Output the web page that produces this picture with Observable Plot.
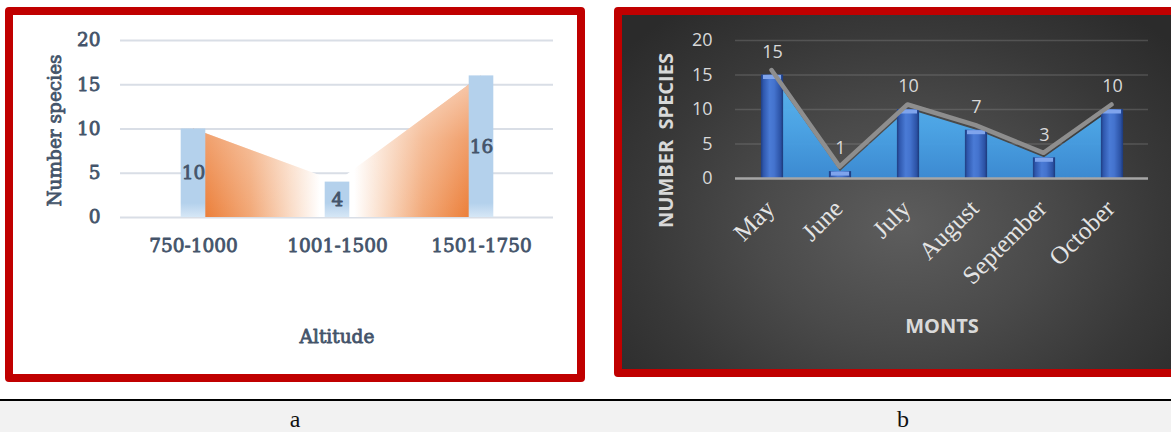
<!DOCTYPE html>
<html>
<head>
<meta charset="utf-8">
<script src="https://cdn.jsdelivr.net/npm/d3@7"></script>
<script src="https://cdn.jsdelivr.net/npm/@observablehq/plot@0.6"></script>
<style>
  html, body { margin: 0; padding: 0; background: #fff; }
  #page { position: relative; width: 1171px; height: 432px; overflow: hidden; background: #fff; }
  .panel { position: absolute; box-sizing: border-box; border: 8px solid #C00000; border-radius: 4px; }
  #panelA { left: 5px; top: 7px; width: 580px; height: 375px; background: #fff; }
  #panelB { left: 614px; top: 7px; width: 600px; height: 370px;
    background: radial-gradient(ellipse 62% 78% at 48% 60%, #5d5d5d 0%, #4a4a4a 40%, #383838 72%, #2b2b2b 100%); }
  #chartA { position: absolute; left: 13px; top: 15px; }
  #chartB { position: absolute; left: 622px; top: 15px; }
  #chartB text { white-space: pre; }
  #strip { position: absolute; left: 0; top: 399px; width: 1171px; height: 33px; box-sizing: border-box;
    border-top: 2px solid #000; background: #F2F2F2; }
  .sub { position: absolute; top: 6px; transform: translateX(-50%); font-family: "Liberation Serif", serif;
    font-size: 24px; line-height: 24px; color: #111; }
</style>
</head>
<body>
<div id="page">
  <div class="panel" id="panelA"></div>
  <div class="panel" id="panelB"></div>
  <div id="chartA"></div>
  <div id="chartB"></div>
  <div id="strip"></div>
</div>
<script>
// Species richness by altitude band
const altitudes = ["750-1000", "1001-1500", "1501-1750"];
const speciesByAltitude = [10, 4, 16];
const altitudeTicks = [0, 5, 10, 15, 20];
const altitudeTitle = "Altitude";
const altitudeYTitle = "Number species";

// Species richness by month
const months = ["May", "June", "July", "August", "September", "October"];
const speciesByMonth = [15, 1, 10, 7, 3, 10];
const monthTicks = [0, 5, 10, 15, 20];
const monthTitle = "MONTS";
const monthYTitle = "NUMBER  SPECIES";

// Panel captions
const panelNames = ["a", "b"];
const panelCenters = [295, 903];

const rowsA = altitudes.map((altitude, i) => ({altitude, species: speciesByAltitude[i]}));
const rowsB = months.map((month, i) => ({month, species: speciesByMonth[i]}));

function addStops(grad, stops) {
  for (const [offset, color, opacity = 1] of stops) {
    grad.append("stop").attr("offset", offset).attr("stop-color", color).attr("stop-opacity", opacity);
  }
}

// Gradients for the altitude chart
function defsA(index, scales) {
  const base = scales && scales.y ? scales.y(0) : 202;
  const defs = d3.create("svg:defs");
  addStops(defs.append("linearGradient").attr("id", "gA-area")
    .attr("x1", 0).attr("x2", 1).attr("y1", 0).attr("y2", 0), [
    [0, "#EA7732"], [0.05, "#EC813D"], [0.2, "#F2A877"], [0.34, "#FADCC7"],
    [0.44, "#FFFFFF"], [0.56, "#FFFFFF"], [0.66, "#FADCC7"], [0.8, "#F2A877"],
    [0.95, "#EC813D"], [1, "#EA7732"]
  ]);
  addStops(defs.append("linearGradient").attr("id", "gA-hi")
    .attr("x1", 0).attr("x2", 0).attr("y1", 0).attr("y2", 1), [
    [0, "#FFFFFF", 0.6], [0.45, "#FFFFFF", 0.25], [1, "#FFFFFF", 0]
  ]);
  addStops(defs.append("linearGradient").attr("id", "gA-bar").attr("gradientUnits", "userSpaceOnUse")
    .attr("x1", 0).attr("x2", 0).attr("y1", base - 14).attr("y2", base), [
    [0, "#B4D1EC"], [1, "#D6E7F6"]
  ]);
  return defs.node();
}

// Gradients for the monthly chart
function defsB() {
  const defs = d3.create("svg:defs");
  addStops(defs.append("linearGradient").attr("id", "gB-bar")
    .attr("x1", 0).attr("x2", 1).attr("y1", 0).attr("y2", 0), [
    [0, "#1F3E82"], [0.12, "#2F58AE"], [0.4, "#4A7BD6"], [0.6, "#4473CE"],
    [0.88, "#2C53A6"], [1, "#1C397A"]
  ]);
  addStops(defs.append("linearGradient").attr("id", "gB-area")
    .attr("x1", 0).attr("x2", 0).attr("y1", 0).attr("y2", 1), [
    [0, "#5EBAF5"], [0.5, "#4CA8EC"], [1, "#3B8DD8"]
  ]);
  return defs.node();
}

const serifA = '"DejaVu Serif", serif';
const inkA = "#44546A";
const textA = {fill: inkA, stroke: inkA, strokeWidth: 0.8, fontFamily: serifA, fontSize: 18.5};
const axisTextA = {fill: inkA, textStroke: inkA, textStrokeWidth: 0.8, fontFamily: serifA, fontSize: 18.5};

const chartA = Plot.plot({
  width: 564,
  height: 358,
  marginLeft: 107,
  marginRight: 24,
  marginTop: 25,
  marginBottom: 156,
  style: {background: "transparent", overflow: "visible"},
  x: {domain: altitudes, padding: 0, axis: null},
  y: {domain: [0, 20], axis: null},
  marks: [
    defsA,
    Plot.ruleY(altitudeTicks, {stroke: "#D9DEE6", strokeWidth: 2}),
    Plot.areaY(rowsA, {x: "altitude", y: "species", fill: "url(#gA-area)"}),
    Plot.areaY(rowsA, {x: "altitude", y: "species", fill: "url(#gA-hi)"}),
    Plot.barY(rowsA, {x: "altitude", y: "species", fill: "url(#gA-bar)", insetLeft: 59.7, insetRight: 59.7}),
    Plot.text(rowsA, {x: "altitude", y: d => d.species / 2, text: d => String(d.species), ...textA}),
    Plot.axisY(altitudeTicks, {tickSize: 0, tickPadding: 20, label: null, ...axisTextA}),
    Plot.axisX({tickSize: 0, tickPadding: 21, label: null, ...axisTextA}),
    Plot.text([altitudeTitle], {
      text: d => d, frameAnchor: "bottom", lineAnchor: "middle", dy: 120, ...textA
    }),
    Plot.text([altitudeYTitle], {
      text: d => d, frameAnchor: "left", textAnchor: "middle", lineAnchor: "middle",
      rotate: -90, dx: -65, dy: 1.5, ...textA
    })
  ]
});
document.getElementById("chartA").append(chartA);

const sansB = '"Open Sans", "Noto Sans", sans-serif';
const inkB = "#D9D9D9";

const chartB = Plot.plot({
  width: 549,
  height: 354,
  marginLeft: 113,
  marginRight: 23,
  marginTop: 25,
  marginBottom: 191,
  style: {background: "transparent", overflow: "visible"},
  x: {domain: months, padding: 0, axis: null},
  y: {domain: [0, 20], axis: null},
  marks: [
    defsB,
    Plot.ruleY(monthTicks.filter(t => t > 0), {stroke: "#8a8a8a", strokeOpacity: 0.35, strokeWidth: 1.5}),
    Plot.areaY(rowsB, {x: "month", y: "species", fill: "url(#gB-area)", fillOpacity: 0.95}),
    Plot.barY(rowsB, {x: "month", y: "species", fill: "url(#gB-bar)", insetLeft: 22.9, insetRight: 22.9}),
    Plot.tickY(rowsB, {x: "month", y: "species", stroke: "#7FA4EC", strokeWidth: 4, dy: 2, insetLeft: 25, insetRight: 25}),
    Plot.ruleY([0], {stroke: "#A6A6A6", strokeWidth: 2.5}),
    Plot.lineY(rowsB, {x: "month", y: "species", stroke: "#8E8E8E", strokeWidth: 4.5, dx: -1, dy: -5}),
    Plot.text(rowsB, {
      x: "month", y: "species", text: d => String(d.species), dy: -23,
      fill: inkB, fontFamily: sansB, fontSize: 18
    }),
    Plot.axisY(monthTicks, {
      tickSize: 0, tickPadding: 23, label: null,
      fill: inkB, fontFamily: sansB, fontSize: 18
    }),
    Plot.axisX({
      tickSize: 0, tickPadding: 26, tickRotate: -45, label: null, dx: -2,
      fill: "#E4E4E4", fontFamily: '"Liberation Serif", serif', fontSize: 25
    }),
    Plot.text([monthTitle], {
      text: d => d, frameAnchor: "bottom", lineAnchor: "middle", dy: 148,
      fill: inkB, fontFamily: sansB, fontWeight: "bold", fontSize: 20
    }),
    Plot.text([monthYTitle], {
      text: d => d, frameAnchor: "left", textAnchor: "middle", lineAnchor: "middle",
      rotate: -90, dx: -69, dy: 31,
      fill: inkB, fontFamily: sansB, fontWeight: "bold", fontSize: 20
    })
  ]
});
document.getElementById("chartB").append(chartB);

// Panel captions under the black rule
const strip = document.getElementById("strip");
panelNames.forEach((name, i) => {
  const el = document.createElement("div");
  el.className = "sub";
  el.style.left = panelCenters[i] + "px";
  el.textContent = name;
  strip.append(el);
});
</script>
</body>
</html>
